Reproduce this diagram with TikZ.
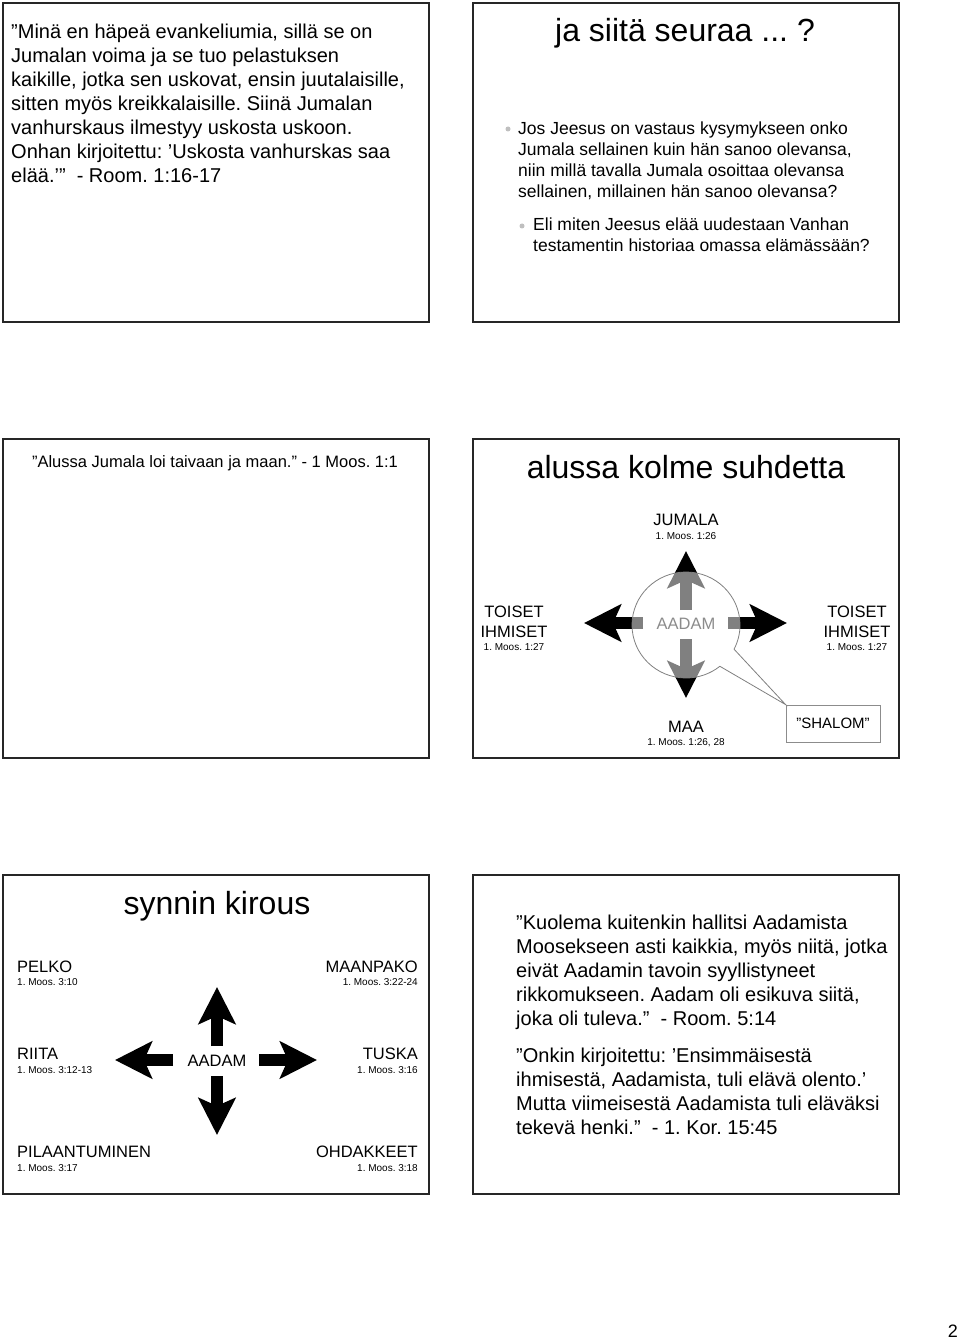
\documentclass[tikz,border=0pt]{standalone}
\usepackage{fontspec}
\setmainfont{Liberation Sans}
\usetikzlibrary{arrows.meta,shapes.callouts}
\frenchspacing
\newcommand\fsz[2]{\fontsize{#1}{#2}\selectfont}
\tikzset{
  frame/.style={draw=black!85, line width=1.5pt},
  bigarrow/.style={line width=12pt, -{Stealth[length=37pt,width=37pt,inset=8pt]}},
  lbl/.style={inner sep=0pt, anchor=base, font=\fsz{16.5}{20}},
  ref/.style={inner sep=0pt, anchor=base, font=\fsz{10}{12}},
  ttl/.style={inner sep=0pt, anchor=base, font=\fsz{32}{36}},
  body/.style={inner sep=0pt, anchor=base west},
  bullet/.style={circle, fill=black!25, inner sep=0pt, minimum size=5pt},
}
\begin{document}
\begin{tikzpicture}[x=1pt,y=-1pt]
\fill[white] (0,0) rectangle (960,1340);
\useasboundingbox (0,0) rectangle (960,1340);

% ---------- frames
\draw[frame] (3,3) rectangle (429,322);
\draw[frame] (473,3) rectangle (899,322);
\draw[frame] (3,439) rectangle (429,758);
\draw[frame] (473,439) rectangle (899,758);
\draw[frame] (3,875) rectangle (429,1194);
\draw[frame] (473,875) rectangle (899,1194);

% ---------- slide 1
\node[body] (s1text) at (11,39) {\parbox[t]{410pt}{\raggedright\fsz{20}{24}%
”Minä en häpeä evankeliumia, sillä se on\\
Jumalan voima ja se tuo pelastuksen\\
kaikille, jotka sen uskovat, ensin juutalaisille,\\
sitten myös kreikkalaisille. Siinä Jumalan\\
vanhurskaus ilmestyy uskosta uskoon.\\
Onhan kirjoitettu: ’Uskosta vanhurskas saa\\
elää.’”~ - Room. 1:16-17}};

% ---------- slide 2
\node[ttl] (s2title) at (685,42) {ja siitä seuraa ... ?};
\node[bullet] (b1) at (508,129) {};
\node[body] (s2b1) at (518,135) {\parbox[t]{370pt}{\raggedright\fsz{17.5}{20.7}%
Jos Jeesus on vastaus kysymykseen onko\\
Jumala sellainen kuin hän sanoo olevansa,\\
niin millä tavalla Jumala osoittaa olevansa\\
sellainen, millainen hän sanoo olevansa?}};
\node[bullet] (b2) at (522,226) {};
\node[body] (s2b2) at (533,231) {\parbox[t]{360pt}{\raggedright\fsz{17.5}{20.7}%
Eli miten Jeesus elää uudestaan Vanhan\\
testamentin historiaa omassa elämässään?}};

% ---------- slide 3
\node[inner sep=0pt, anchor=base, font=\fsz{16.5}{20}] (s3text) at (215,467)
  {”Alussa Jumala loi taivaan ja maan.” - 1 Moos. 1:1};

% ---------- slide 4
\node[ttl] (s4title) at (686,478) {alussa kolme suhdetta};
\node[lbl] (jumala) at (686,525) {JUMALA};
\node[ref] (jumalaref) at (686,539) {1. Moos. 1:26};
\node[lbl] (toisetL) at (514,617) {\parbox[t]{100pt}{\centering TOISET\\IHMISET}};
\node[ref] (toisetLref) at (514,650) {1. Moos. 1:27};
\node[lbl] (toisetR) at (857,617) {\parbox[t]{100pt}{\centering TOISET\\IHMISET}};
\node[ref] (toisetRref) at (857,650) {1. Moos. 1:27};
\node[lbl] (maa) at (686,732) {MAA};
\node[ref] (maaref) at (686,745) {1. Moos. 1:26, 28};

\coordinate (a4u0) at (686,610); \coordinate (a4u1) at (686,551);
\coordinate (a4d0) at (686,639); \coordinate (a4d1) at (686,698);
\coordinate (a4l0) at (643,623); \coordinate (a4l1) at (584,623);
\coordinate (a4r0) at (728,623); \coordinate (a4r1) at (787,623);
\draw[bigarrow] (a4u0) -- (a4u1);
\draw[bigarrow] (a4d0) -- (a4d1);
\draw[bigarrow] (a4l0) -- (a4l1);
\draw[bigarrow] (a4r0) -- (a4r1);

\node[draw=black!45, line width=0.8pt, minimum width=94pt, minimum height=37pt,
      inner sep=0pt, font=\fsz{15}{18}] (shalom) at (833,723.5) {”SHALOM”};
\node[ellipse callout, draw=black!50, line width=0.8pt, fill=white, fill opacity=0.5,
      minimum width=108pt, minimum height=106pt, inner sep=0pt,
      callout absolute pointer={(shalom.north west)}, callout pointer arc=24] (bubble) at (686,625) {};
\node[lbl, text=black!45] (aadam4) at (686,629) {AADAM};

% ---------- slide 5
\node[ttl] (s5title) at (217,914) {synnin kirous};
\node[lbl, anchor=base west] (pelko) at (17,972) {PELKO};
\node[ref, anchor=base west] (pelkoref) at (17,985) {1. Moos. 3:10};
\node[lbl, anchor=base east] (maanpako) at (418,972) {MAANPAKO};
\node[ref, anchor=base east] (maanpakoref) at (418,985) {1. Moos. 3:22-24};
\node[lbl, anchor=base west] (riita) at (17,1059) {RIITA};
\node[ref, anchor=base west] (riitaref) at (17,1073) {1. Moos. 3:12-13};
\node[lbl, anchor=base east] (tuska) at (418,1059) {TUSKA};
\node[ref, anchor=base east] (tuskaref) at (418,1073) {1. Moos. 3:16};
\node[lbl, anchor=base west] (pilaan) at (17,1157) {PILAANTUMINEN};
\node[ref, anchor=base west] (pilaanref) at (17,1171) {1. Moos. 3:17};
\node[lbl, anchor=base east] (ohdak) at (418,1157) {OHDAKKEET};
\node[ref, anchor=base east] (ohdakref) at (418,1171) {1. Moos. 3:18};
\node[lbl] (aadam5) at (217,1066) {AADAM};

\coordinate (a5u0) at (217,1046); \coordinate (a5u1) at (217,987);
\coordinate (a5d0) at (217,1076); \coordinate (a5d1) at (217,1135);
\coordinate (a5l0) at (173,1060); \coordinate (a5l1) at (115,1060);
\coordinate (a5r0) at (259,1060); \coordinate (a5r1) at (317,1060);
\draw[bigarrow] (a5u0) -- (a5u1);
\draw[bigarrow] (a5d0) -- (a5d1);
\draw[bigarrow] (a5l0) -- (a5l1);
\draw[bigarrow] (a5r0) -- (a5r1);

% ---------- slide 6
\node[body] (s6text) at (516,929) {\parbox[t]{380pt}{\raggedright\fsz{20}{24}%
”Kuolema kuitenkin hallitsi Aadamista\\
Moosekseen asti kaikkia, myös niitä, jotka\\
eivät Aadamin tavoin syyllistyneet\\
rikkomukseen. Aadam oli esikuva siitä,\\
joka oli tuleva.”~ - Room. 5:14\\[13pt]
”Onkin kirjoitettu: ’Ensimmäisestä\\
ihmisestä, Aadamista, tuli elävä olento.’\\
Mutta viimeisestä Aadamista tuli eläväksi\\
tekevä henki.”~ - 1. Kor. 15:45}};

% ---------- page number
\node[inner sep=0pt, anchor=base east, font=\fsz{18}{20}] (pagenum) at (958,1337) {2};
\end{tikzpicture}
\end{document}
